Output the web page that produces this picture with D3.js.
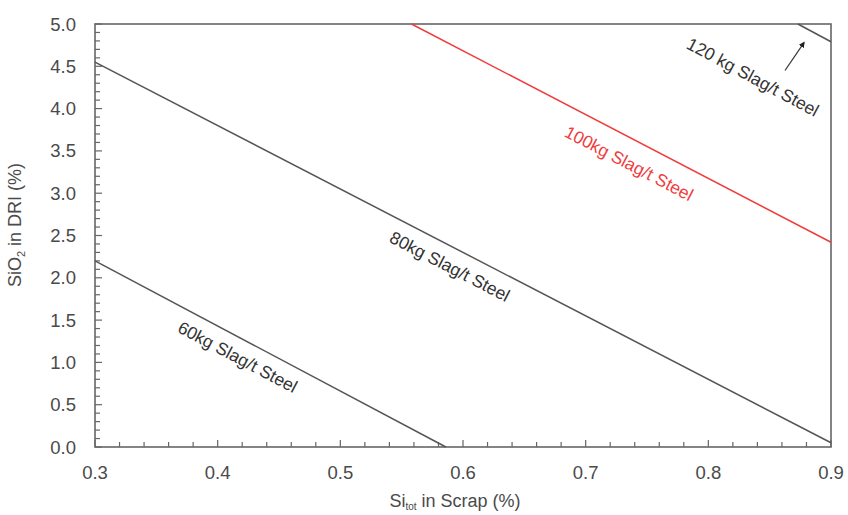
<!DOCTYPE html>
<html><head><meta charset="utf-8">
<script src="https://cdn.jsdelivr.net/npm/d3@7"></script>
<style>body{margin:0;background:#fff}svg{display:block}text{font-family:"Liberation Sans",Arial,sans-serif}</style>
</head><body>
<svg id="c" width="848" height="515"></svg>
<script>
const xTicks = [0.3,0.4,0.5,0.6,0.7,0.8,0.9];
const yTicks = [0,0.5,1,1.5,2,2.5,3,3.5,4,4.5,5];
const seriesNames = ["60kg Slag/t Steel","80kg Slag/t Steel","100kg Slag/t Steel","120 kg Slag/t Steel"];
const seriesX = [[0.3,0.586],[0.3,0.9],[0.558,0.9],[0.873,0.9]];
const seriesY = [[2.2,0.0],[4.55,0.05],[5.0,2.42],[5.0,4.79]];
const seriesColor = ["#555","#555","#f03c3c","#555"];
const labelPos = [[0.414,1.0],[0.587,2.07],[0.733,3.29],[0.834,4.31]];
const arrowFrom = [0.8625,4.45], arrowTo = [0.878,4.78];

const svg = d3.select("#c");
const m = {l:95,r:831,t:24,b:447};
const x = d3.scaleLinear().domain([0.3,0.9]).range([m.l,m.r]);
const y = d3.scaleLinear().domain([0,5]).range([m.b,m.t]);
const axisCol = "#666";

// minor ticks
const g = svg.append("g");
const xMinor = d3.range(0.30,0.9001,0.02);
g.selectAll(".xm").data(xMinor).enter().append("line")
 .attr("x1",d=>x(d)).attr("x2",d=>x(d)).attr("y1",m.b).attr("y2",d=>m.b-(Math.abs(d*10-Math.round(d*10))<1e-6?7:5))
 .attr("stroke",axisCol).attr("stroke-width",1.2);
const yMinor = d3.range(0,5.0001,0.1);
g.selectAll(".ym").data(yMinor).enter().append("line")
 .attr("y1",d=>y(d)).attr("y2",d=>y(d)).attr("x1",m.l).attr("x2",d=>m.l+(Math.abs(d*2-Math.round(d*2))<1e-6?7:5))
 .attr("stroke",axisCol).attr("stroke-width",1.2);

// frame
svg.append("rect").attr("x",m.l).attr("y",m.t).attr("width",m.r-m.l).attr("height",m.b-m.t)
 .attr("fill","none").attr("stroke",axisCol).attr("stroke-width",1.6);

// tick labels
svg.selectAll(".xt").data(xTicks).enter().append("text")
 .attr("x",d=>x(d)).attr("y",479).attr("text-anchor","middle")
 .attr("font-size",18.5).attr("fill","#4a4a4a").text(d=>d.toFixed(1));
svg.selectAll(".yt").data(yTicks).enter().append("text")
 .attr("x",76).attr("y",d=>y(d)+6.5).attr("text-anchor","end")
 .attr("font-size",18.5).attr("fill","#4a4a4a").text(d=>d.toFixed(1));

// axis titles
const xt = svg.append("text").attr("x",455).attr("y",507).attr("text-anchor","middle").attr("font-size",18).attr("fill","#4a4a4a");
xt.append("tspan").text("Si");
xt.append("tspan").attr("font-size",10).attr("dy",3).text("tot");
xt.append("tspan").attr("dy",-3).text(" in Scrap (%)");
const yt = svg.append("text").attr("transform","translate(21,225) rotate(-90)").attr("text-anchor","middle").attr("font-size",18).attr("fill","#4a4a4a");
yt.append("tspan").text("SiO");
yt.append("tspan").attr("font-size",11).attr("dy",4).text("2");
yt.append("tspan").attr("dy",-4).text("  in DRI (%)");

// lines
const line = d3.line().x(d=>x(d[0])).y(d=>y(d[1]));
seriesNames.forEach((n,i)=>{
  const pts = seriesX[i].map((v,j)=>[v,seriesY[i][j]]);
  svg.append("path").attr("d",line(pts)).attr("fill","none").attr("stroke",seriesColor[i]).attr("stroke-width",1.5);
  const p0=[x(pts[0][0]),y(pts[0][1])], p1=[x(pts[1][0]),y(pts[1][1])];
  const ang = Math.atan2(p1[1]-p0[1],p1[0]-p0[0])*180/Math.PI;
  svg.append("text").attr("transform",`translate(${x(labelPos[i][0])},${y(labelPos[i][1])}) rotate(${ang})`)
   .attr("text-anchor","middle").attr("font-size",17.5).attr("fill",i===2?"#f03c3c":"#333").text(n);
});

// arrow
svg.append("defs").append("marker").attr("id","ah").attr("viewBox","0 0 10 10").attr("refX",8).attr("refY",5)
 .attr("markerWidth",5).attr("markerHeight",5).attr("orient","auto")
 .append("path").attr("d","M0,0L10,5L0,10z").attr("fill","#222");
svg.append("line").attr("x1",x(arrowFrom[0])).attr("y1",y(arrowFrom[1])).attr("x2",x(arrowTo[0])).attr("y2",y(arrowTo[1]))
 .attr("stroke","#333").attr("stroke-width",1.2).attr("marker-end","url(#ah)");
</script>
</body></html>
